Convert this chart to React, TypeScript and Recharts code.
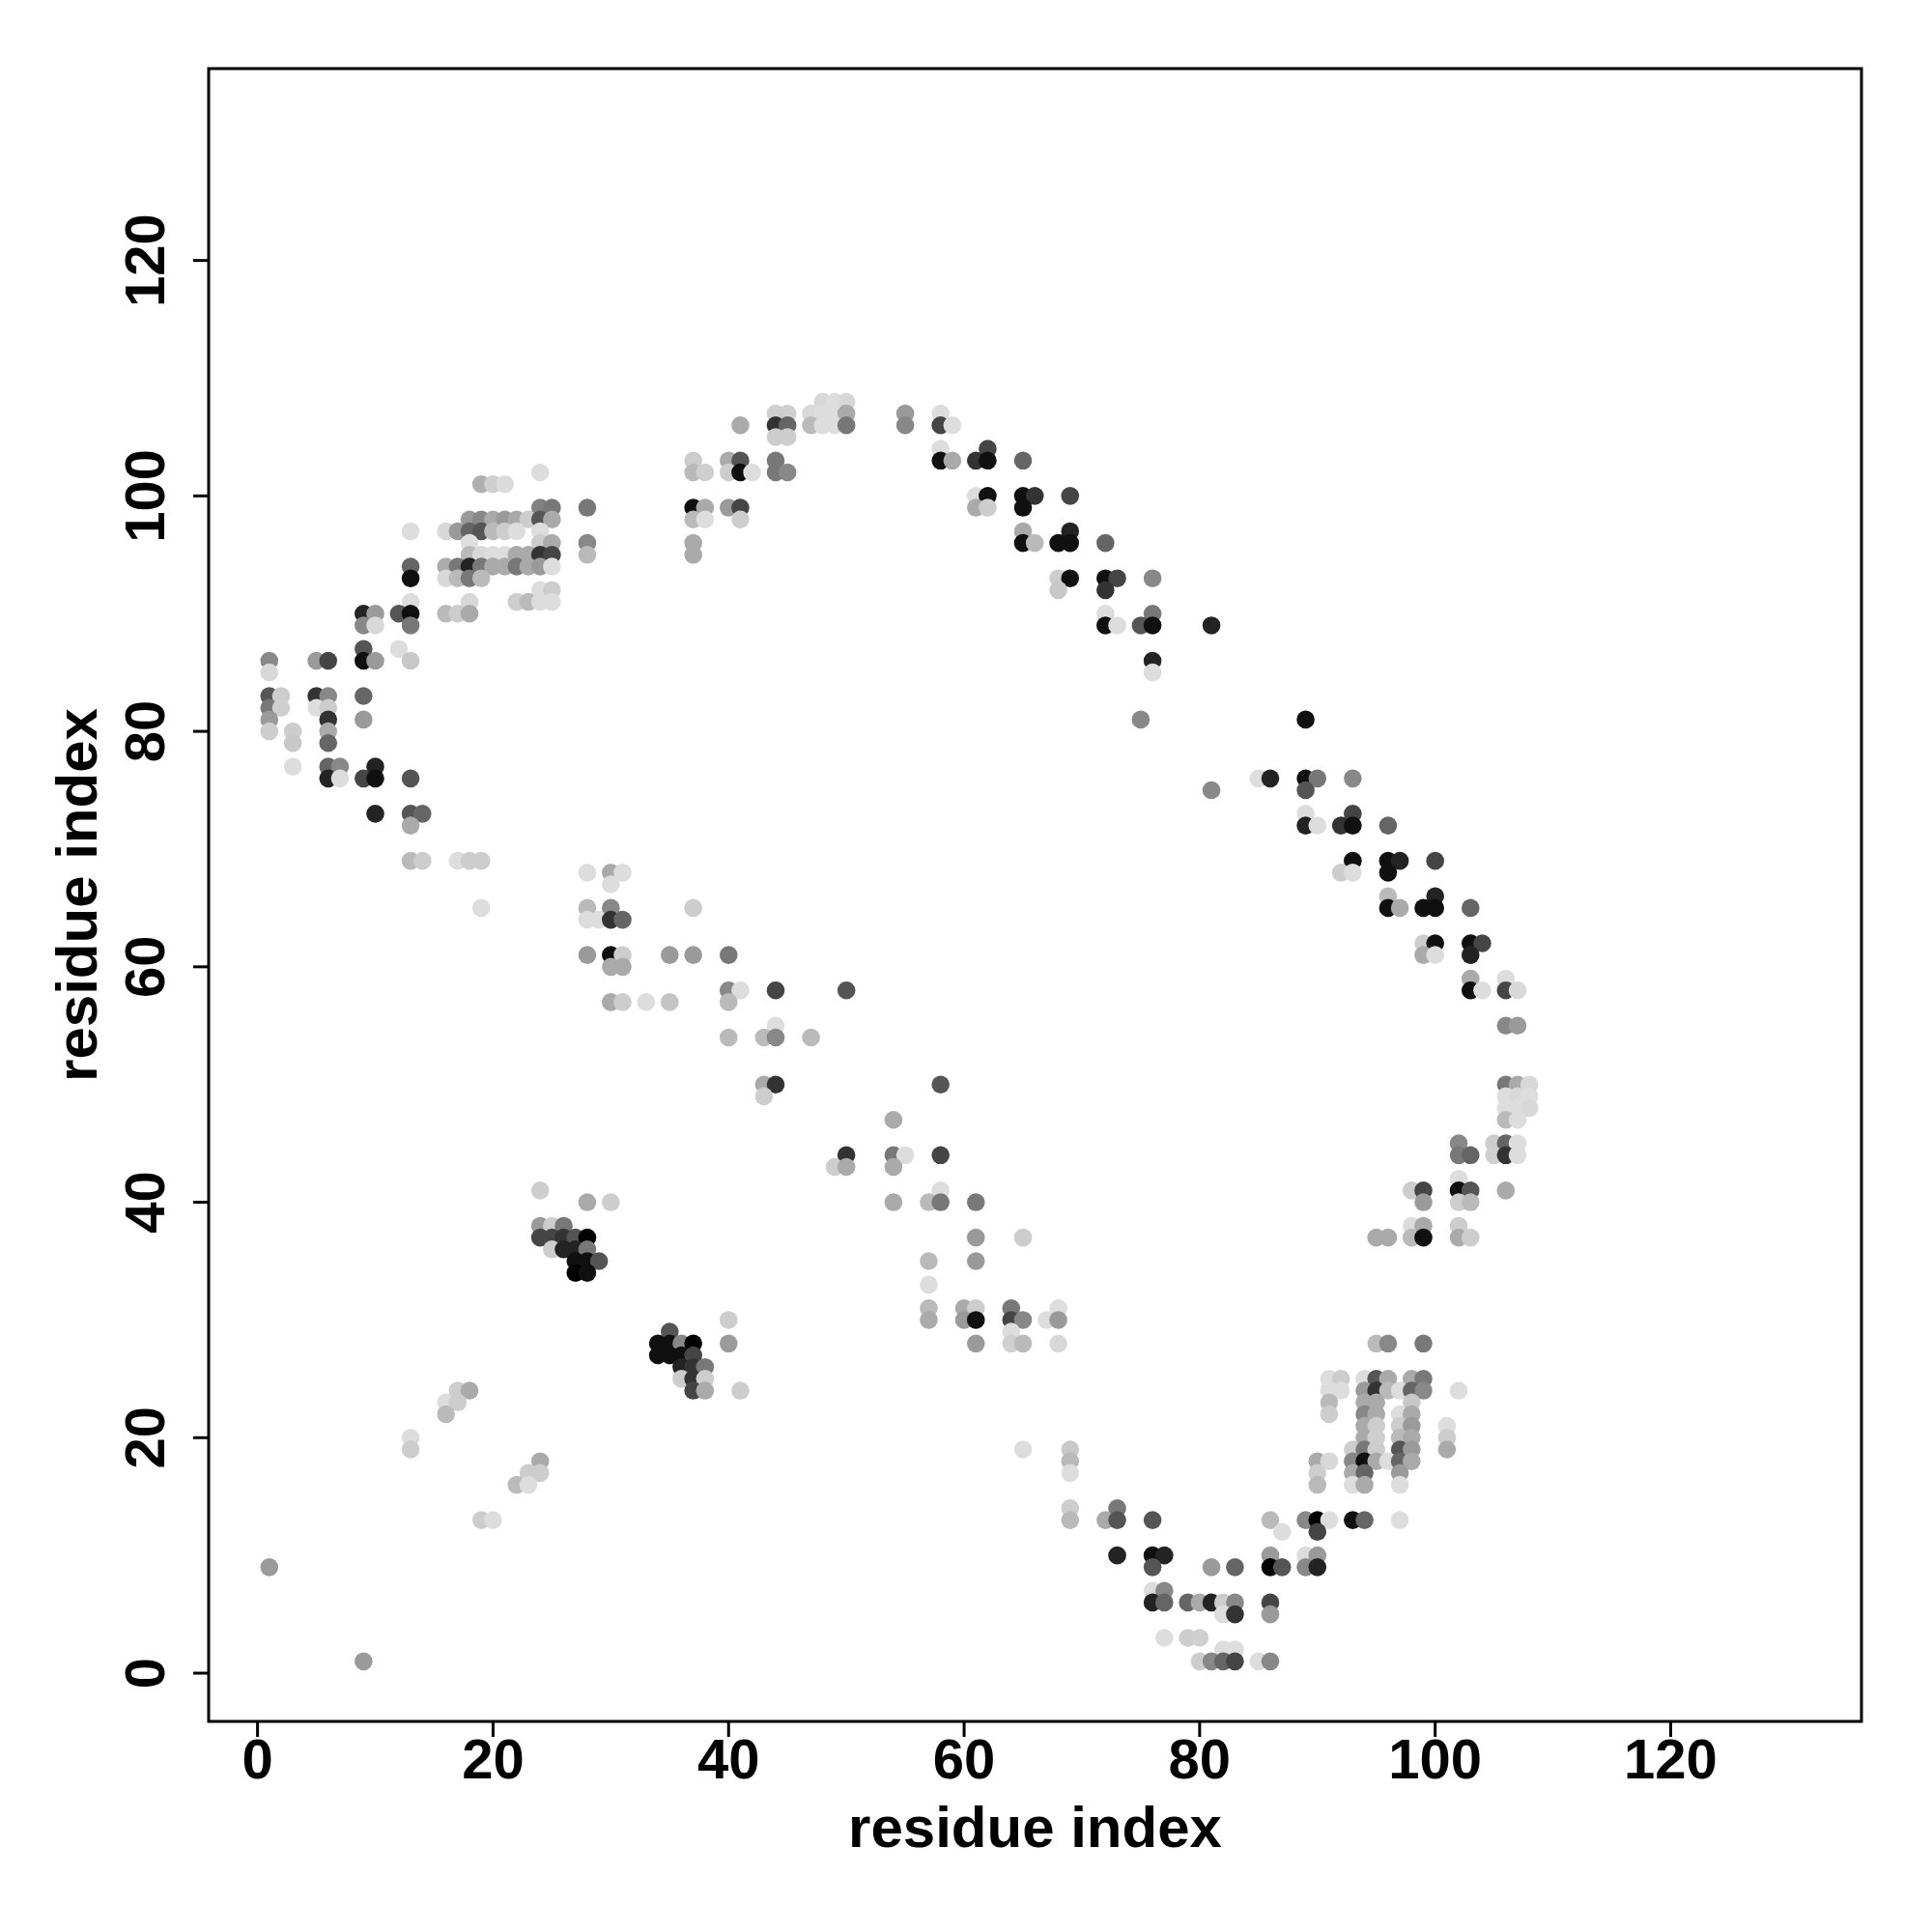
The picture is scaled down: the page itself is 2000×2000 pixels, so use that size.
import {
  ScatterChart,
  Scatter,
  XAxis,
  YAxis,
  ReferenceArea,
} from 'recharts'

// ---------------------------------------------------------------------------
// Contacts: [residue i, residue j, contact score 0..1] — darker = higher score
// ---------------------------------------------------------------------------

type Contact = [number, number, number]

const nTermArc: Contact[] = [
  [24, 102, 0.04],
  [19, 101, 0.24], [20, 101, 0.1], [21, 101, 0.05],
  [24, 99, 0.44], [25, 99, 0.48], [28, 99, 0.48],
  [18, 98, 0.33], [19, 98, 0.41], [20, 98, 0.26], [21, 98, 0.33], [22, 98, 0.26], [23, 98, 0.11], [24, 98, 0.63], [25, 98, 0.26],
  [13, 97, 0.04], [16, 97, 0.06], [17, 97, 0.33], [18, 97, 0.56], [19, 97, 0.63], [20, 97, 0.19], [21, 97, 0.11], [22, 97, 0.04], [24, 97, 0.04],
  [18, 96, 0.03], [24, 96, 0.11], [25, 96, 0.26], [28, 96, 0.41],
  [18, 95, 0.19], [19, 95, 0.06], [20, 95, 0.04], [21, 95, 0.04], [22, 95, 0.26], [23, 95, 0.26], [24, 95, 0.78], [25, 95, 0.7], [28, 95, 0.19],
  [13, 94, 0.56], [16, 94, 0.26], [17, 94, 0.48], [18, 94, 0.85], [19, 94, 0.48], [20, 94, 0.26], [21, 94, 0.26], [22, 94, 0.48], [23, 94, 0.26], [24, 94, 0.33], [25, 94, 0.04],
  [13, 93, 0.93], [16, 93, 0.06], [17, 93, 0.19], [18, 93, 0.48], [19, 93, 0.19],
  [24, 92, 0.04], [25, 92, 0.11],
  [13, 91, 0.04], [18, 91, 0.06], [22, 91, 0.11], [23, 91, 0.19], [24, 91, 0.04], [25, 91, 0.04],
  [9, 90, 0.85], [10, 90, 0.33], [12, 90, 0.63], [13, 90, 0.93], [16, 90, 0.19], [17, 90, 0.11], [18, 90, 0.26],
  [9, 89, 0.41], [10, 89, 0.06], [13, 89, 0.48],
  [9, 87, 0.63], [12, 87, 0.04],
  [1, 86, 0.41], [5, 86, 0.33], [6, 86, 0.7], [9, 86, 0.93], [10, 86, 0.33], [13, 86, 0.13],
  [1, 85, 0.06],
  [1, 83, 0.63], [2, 83, 0.11], [5, 83, 0.78], [6, 83, 0.41], [9, 83, 0.56],
  [1, 82, 0.48], [2, 82, 0.1], [5, 82, 0.04], [6, 82, 0.11],
  [1, 81, 0.33], [6, 81, 0.78], [9, 81, 0.33],
  [1, 80, 0.11], [3, 80, 0.11], [6, 80, 0.26],
  [3, 79, 0.13], [6, 79, 0.56],
  [3, 77, 0.04], [6, 77, 0.56], [7, 77, 0.41], [10, 77, 0.85],
  [6, 76, 0.85], [7, 76, 0.04], [9, 76, 0.7], [10, 76, 0.93], [13, 76, 0.63],
  [10, 73, 0.85], [13, 73, 0.63], [14, 73, 0.56],
  [13, 72, 0.26],
  [13, 69, 0.19], [14, 69, 0.11], [17, 69, 0.04], [18, 69, 0.11], [19, 69, 0.11],
  [19, 65, 0.04],
]

const topArc: Contact[] = [
  [48, 108, 0.06], [49, 108, 0.04], [50, 108, 0.06],
  [44, 107, 0.1], [45, 107, 0.1], [47, 107, 0.06], [48, 107, 0.04], [49, 107, 0.04], [50, 107, 0.26], [55, 107, 0.33], [58, 107, 0.04],
  [41, 106, 0.26], [44, 106, 0.78], [45, 106, 0.56], [47, 106, 0.19], [48, 106, 0.04], [49, 106, 0.04], [50, 106, 0.48], [55, 106, 0.41], [58, 106, 0.7], [59, 106, 0.04],
  [44, 105, 0.11], [45, 105, 0.11],
  [58, 104, 0.04], [62, 104, 0.7],
  [37, 103, 0.11], [40, 103, 0.26], [41, 103, 0.63], [44, 103, 0.48], [58, 103, 0.93], [59, 103, 0.26], [61, 103, 0.78], [62, 103, 0.93], [65, 103, 0.56],
  [37, 102, 0.19], [38, 102, 0.1], [40, 102, 0.11], [41, 102, 0.93], [42, 102, 0.04], [44, 102, 0.48], [45, 102, 0.41],
  [61, 100, 0.04], [62, 100, 0.93], [65, 100, 0.93], [66, 100, 0.78], [69, 100, 0.7],
  [37, 99, 0.93], [38, 99, 0.26], [40, 99, 0.33], [41, 99, 0.7], [61, 99, 0.26], [62, 99, 0.11], [65, 99, 0.93],
  [37, 98, 0.19], [38, 98, 0.04], [41, 98, 0.11],
  [65, 97, 0.26], [69, 97, 0.85],
  [37, 96, 0.26], [65, 96, 0.93], [66, 96, 0.19], [68, 96, 0.93], [69, 96, 0.93], [72, 96, 0.56],
  [37, 95, 0.26],
]

const rightArc: Contact[] = [
  [68, 93, 0.11], [69, 93, 0.93], [72, 93, 0.93], [73, 93, 0.7], [76, 93, 0.41],
  [68, 92, 0.13], [72, 92, 0.78],
  [72, 90, 0.04], [76, 90, 0.48],
  [72, 89, 0.93], [73, 89, 0.04], [75, 89, 0.63], [76, 89, 0.93], [81, 89, 0.85],
  [76, 86, 0.85], [76, 85, 0.04],
  [75, 81, 0.41], [89, 81, 0.93],
  [85, 76, 0.04], [86, 76, 0.85], [89, 76, 0.93], [90, 76, 0.48], [93, 76, 0.41],
  [81, 75, 0.41], [89, 75, 0.63],
  [89, 73, 0.04], [93, 73, 0.7],
  [89, 72, 0.85], [90, 72, 0.04], [92, 72, 0.78], [93, 72, 0.93], [96, 72, 0.56],
  [93, 69, 0.93], [96, 69, 0.93], [97, 69, 0.85], [100, 69, 0.7],
  [92, 68, 0.11], [93, 68, 0.04], [96, 68, 0.93],
  [96, 66, 0.19], [100, 66, 0.85],
  [96, 65, 0.93], [97, 65, 0.26], [99, 65, 0.93], [100, 65, 0.93], [103, 65, 0.56],
  [99, 62, 0.11], [100, 62, 0.93], [103, 62, 0.93], [104, 62, 0.7],
  [99, 61, 0.26], [100, 61, 0.04], [103, 61, 0.85],
  [103, 59, 0.26], [106, 59, 0.04],
  [103, 58, 0.93], [104, 58, 0.04], [106, 58, 0.7], [107, 58, 0.06],
  [106, 55, 0.41], [107, 55, 0.33],
  [106, 50, 0.48], [107, 50, 0.26], [108, 50, 0.06],
  [106, 49, 0.04], [107, 49, 0.06], [108, 49, 0.04],
  [106, 48, 0.04], [107, 48, 0.04], [108, 48, 0.06],
  [106, 47, 0.19], [107, 47, 0.04],
  [102, 45, 0.41], [105, 45, 0.11], [106, 45, 0.56], [107, 45, 0.04],
  [102, 44, 0.48], [103, 44, 0.56], [105, 44, 0.1], [106, 44, 0.78], [107, 44, 0.04],
  [102, 42, 0.04],
  [98, 41, 0.11], [99, 41, 0.7], [102, 41, 0.93], [103, 41, 0.63], [106, 41, 0.26],
  [99, 40, 0.33], [102, 40, 0.11], [103, 40, 0.19],
  [98, 38, 0.04], [99, 38, 0.26], [102, 38, 0.11],
  [95, 37, 0.26], [96, 37, 0.26], [98, 37, 0.19], [99, 37, 0.93], [102, 37, 0.26], [103, 37, 0.11],
]

const lowerRightSheet: Contact[] = [
  [95, 28, 0.19], [96, 28, 0.41], [99, 28, 0.48],
  [91, 25, 0.04], [92, 25, 0.11], [94, 25, 0.04], [95, 25, 0.63], [96, 25, 0.26], [98, 25, 0.26], [99, 25, 0.48],
  [91, 24, 0.04], [92, 24, 0.04], [94, 24, 0.33], [95, 24, 0.78], [96, 24, 0.19], [97, 24, 0.04], [98, 24, 0.56], [99, 24, 0.41], [102, 24, 0.04],
  [91, 23, 0.19], [94, 23, 0.26], [95, 23, 0.26], [98, 23, 0.13],
  [91, 22, 0.11], [94, 22, 0.41], [95, 22, 0.26], [97, 22, 0.04], [98, 22, 0.26],
  [94, 21, 0.26], [95, 21, 0.11], [97, 21, 0.11], [98, 21, 0.33], [101, 21, 0.04],
  [94, 20, 0.26], [95, 20, 0.1], [97, 20, 0.19], [98, 20, 0.26], [101, 20, 0.11],
  [93, 19, 0.11], [94, 19, 0.48], [95, 19, 0.11], [97, 19, 0.63], [98, 19, 0.33], [101, 19, 0.26],
  [90, 18, 0.26], [91, 18, 0.06], [93, 18, 0.41], [94, 18, 0.93], [95, 18, 0.26], [96, 18, 0.04], [97, 18, 0.56], [98, 18, 0.26],
  [90, 17, 0.11], [93, 17, 0.26], [94, 17, 0.56], [97, 17, 0.33],
  [90, 16, 0.19], [93, 16, 0.04], [94, 16, 0.26], [97, 16, 0.04],
  [86, 13, 0.19], [89, 13, 0.41], [90, 13, 1.0], [91, 13, 0.04], [93, 13, 0.93], [94, 13, 0.56], [97, 13, 0.04],
  [87, 12, 0.04], [90, 12, 0.7],
  [86, 10, 0.33], [89, 10, 0.04], [90, 10, 0.33],
  [86, 9, 1.0], [87, 9, 0.63], [89, 9, 0.41], [90, 9, 0.85],
]

const bottomArc: Contact[] = [
  [65, 19, 0.04], [69, 19, 0.13],
  [69, 18, 0.19], [69, 17, 0.04],
  [69, 14, 0.11], [73, 14, 0.48],
  [69, 13, 0.19], [72, 13, 0.26], [73, 13, 0.63], [76, 13, 0.63],
  [73, 10, 0.85], [76, 10, 0.93], [77, 10, 0.85],
  [76, 9, 0.63], [81, 9, 0.33], [83, 9, 0.56],
  [76, 7, 0.04], [77, 7, 0.41],
  [76, 6, 0.85], [77, 6, 0.56], [79, 6, 0.56], [80, 6, 0.26], [81, 6, 0.85], [82, 6, 0.11], [83, 6, 0.41], [86, 6, 0.7],
  [82, 5, 0.04], [83, 5, 0.78], [86, 5, 0.33],
  [77, 3, 0.04], [79, 3, 0.11], [80, 3, 0.1],
  [82, 2, 0.04], [83, 2, 0.04],
  [80, 1, 0.11], [81, 1, 0.41], [82, 1, 0.56], [83, 1, 0.7], [85, 1, 0.04], [86, 1, 0.41],
]

const midDiagonal: Contact[] = [
  [28, 68, 0.04], [30, 68, 0.26], [31, 68, 0.04],
  [30, 67, 0.04],
  [28, 65, 0.19], [30, 65, 0.41], [37, 65, 0.11],
  [28, 64, 0.04], [29, 64, 0.04], [30, 64, 0.78], [31, 64, 0.56],
  [28, 61, 0.33], [30, 61, 0.93], [31, 61, 0.11], [35, 61, 0.33], [37, 61, 0.33], [40, 61, 0.48],
  [30, 60, 0.26], [31, 60, 0.26],
  [40, 58, 0.41], [41, 58, 0.04], [44, 58, 0.7], [50, 58, 0.63],
  [30, 57, 0.26], [31, 57, 0.11], [33, 57, 0.04], [35, 57, 0.15], [40, 57, 0.19],
  [44, 55, 0.04],
  [40, 54, 0.19], [43, 54, 0.19], [44, 54, 0.41], [47, 54, 0.19],
  [43, 50, 0.26], [44, 50, 0.78], [43, 49, 0.11],
  [50, 44, 0.78], [49, 43, 0.11], [50, 43, 0.26],
  [58, 50, 0.63], [54, 47, 0.26],
  [54, 44, 0.48], [55, 44, 0.04], [58, 44, 0.7], [54, 43, 0.26],
  [58, 41, 0.04],
  [54, 40, 0.26], [57, 40, 0.19], [58, 40, 0.48], [61, 40, 0.48],
  [61, 37, 0.33], [65, 37, 0.11],
  [57, 35, 0.19], [61, 35, 0.33],
  [57, 33, 0.04],
  [57, 31, 0.19], [60, 31, 0.26], [61, 31, 0.11], [64, 31, 0.48], [68, 31, 0.04],
  [57, 30, 0.26], [60, 30, 0.33], [61, 30, 0.93], [64, 30, 0.7], [65, 30, 0.41], [67, 30, 0.04], [68, 30, 0.33],
  [64, 29, 0.04],
  [61, 28, 0.33], [64, 28, 0.1], [65, 28, 0.19], [68, 28, 0.06],
]

const lowerLeft: Contact[] = [
  [24, 41, 0.11],
  [28, 40, 0.26], [30, 40, 0.11],
  [24, 38, 0.33], [25, 38, 0.11], [26, 38, 0.48],
  [24, 37, 0.7], [25, 37, 0.7], [26, 37, 0.78], [27, 37, 0.63], [28, 37, 1.0],
  [25, 36, 0.11], [26, 36, 0.85], [27, 36, 0.85], [28, 36, 0.48],
  [27, 35, 0.93], [28, 35, 0.93], [29, 35, 0.63],
  [27, 34, 1.0], [28, 34, 0.93],
  [40, 30, 0.11], [35, 29, 0.63],
  [34, 28, 0.93], [35, 28, 0.93], [36, 28, 0.41], [37, 28, 1.0], [40, 28, 0.33],
  [34, 27, 0.93], [35, 27, 0.93], [36, 27, 0.93], [37, 27, 0.7],
  [36, 26, 0.85], [37, 26, 0.78], [38, 26, 0.48],
  [36, 25, 0.11], [37, 25, 0.78], [38, 25, 0.11],
  [37, 24, 0.7], [38, 24, 0.26], [41, 24, 0.11],
  [17, 24, 0.11], [18, 24, 0.26],
  [16, 23, 0.04], [17, 23, 0.11], [16, 22, 0.19],
  [13, 20, 0.04], [13, 19, 0.11],
  [24, 18, 0.26], [23, 17, 0.11], [24, 17, 0.11], [22, 16, 0.19], [23, 16, 0.04],
  [19, 13, 0.11], [20, 13, 0.04],
  [1, 9, 0.33], [9, 1, 0.33],
]

const axisTicks = [0, 20, 40, 60, 80, 100, 120]
const AXIS_TITLE = 'residue index'

// ---------------------------------------------------------------------------
// Layout
// ---------------------------------------------------------------------------

const W = 2000
const H = 2000
const Y_AXIS_W = 216
const X_AXIS_H = 218
const MARGIN = { top: 71, right: 73, bottom: 0, left: 0 }
const PLOT_LEFT = MARGIN.left + Y_AXIS_W
const PLOT_RIGHT = W - MARGIN.right
const PLOT_TOP = MARGIN.top
const PLOT_BOTTOM = H - MARGIN.bottom - X_AXIS_H
const X_DOMAIN: [number, number] = [-4.15, 136.2]
const Y_DOMAIN: [number, number] = [-4.1, 136.3]

const FONT = '"Liberation Sans", Arial, Helvetica, sans-serif'
const TICK_SIZE = 58
const TITLE_SIZE = 60

const points = [
  ...nTermArc,
  ...topArc,
  ...rightArc,
  ...lowerRightSheet,
  ...bottomArc,
  ...midDiagonal,
  ...lowerLeft,
].map(([x, y, p]) => ({ x, y, p }))

function shade(p: number) {
  const g = Math.round(230 * (1 - p))
  return `rgb(${g},${g},${g})`
}

function Dot(props: any) {
  const { cx, cy, payload } = props
  if (cx == null || cy == null) return null
  return <circle cx={cx} cy={cy} r={9.3} fill={shade(payload.p)} />
}

function XTick(props: any) {
  const { x, y, payload } = props
  return (
    <text
      x={x}
      y={y}
      textAnchor="middle"
      dominantBaseline="central"
      fontFamily={FONT}
      fontWeight={700}
      fontSize={TICK_SIZE}
      fill="#000"
    >
      {payload.value}
    </text>
  )
}

function YTick(props: any) {
  const { x, y, payload } = props
  return (
    <text
      x={x}
      y={y}
      transform={`rotate(-90 ${x} ${y})`}
      textAnchor="middle"
      dominantBaseline="central"
      fontFamily={FONT}
      fontWeight={700}
      fontSize={TICK_SIZE}
      fill="#000"
    >
      {payload.value}
    </text>
  )
}

function XTitle() {
  return (
    <text
      x={(PLOT_LEFT + PLOT_RIGHT) / 2}
      y={PLOT_BOTTOM + 109}
      textAnchor="middle"
      dominantBaseline="central"
      fontFamily={FONT}
      fontWeight={700}
      fontSize={TITLE_SIZE}
      fill="#000"
    >
      {AXIS_TITLE}
    </text>
  )
}

function YTitle() {
  const cx = 79
  const cy = (PLOT_TOP + PLOT_BOTTOM) / 2
  return (
    <text
      x={cx}
      y={cy}
      transform={`rotate(-90 ${cx} ${cy})`}
      textAnchor="middle"
      dominantBaseline="central"
      fontFamily={FONT}
      fontWeight={700}
      fontSize={TITLE_SIZE}
      fill="#000"
    >
      {AXIS_TITLE}
    </text>
  )
}

export default function App() {
  return (
    <div style={{ position: 'absolute', left: 0, top: 0, background: '#fff' }}>
      <ScatterChart width={W} height={H} margin={MARGIN}>
        <XAxis
          type="number"
          dataKey="x"
          domain={X_DOMAIN}
          ticks={axisTicks}
          allowDataOverflow
          height={X_AXIS_H}
          axisLine={false}
          tickSize={16}
          tickMargin={22}
          tickLine={{ stroke: '#000', strokeWidth: 3 }}
          tick={<XTick />}
          label={{ content: () => <XTitle /> }}
        />
        <YAxis
          type="number"
          dataKey="y"
          domain={Y_DOMAIN}
          ticks={axisTicks}
          allowDataOverflow
          width={Y_AXIS_W}
          axisLine={false}
          tickSize={16}
          tickMargin={50}
          tickLine={{ stroke: '#000', strokeWidth: 3 }}
          tick={<YTick />}
          label={{ content: () => <YTitle /> }}
        />
        <ReferenceArea
          x1={X_DOMAIN[0]}
          x2={X_DOMAIN[1]}
          y1={Y_DOMAIN[0]}
          y2={Y_DOMAIN[1]}
          fill="none"
          stroke="#000"
          strokeWidth={3}
          ifOverflow="visible"
        />
        <Scatter data={points} isAnimationActive={false} shape={<Dot />} />
      </ScatterChart>
    </div>
  )
}
